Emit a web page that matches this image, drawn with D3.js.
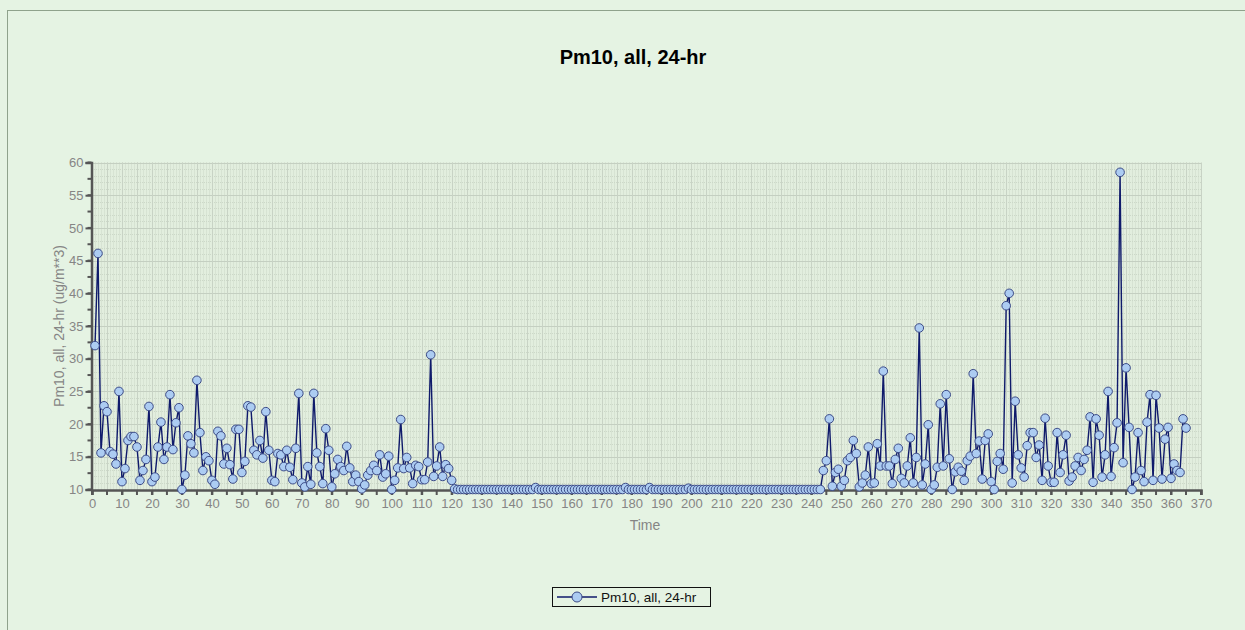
<!DOCTYPE html>
<html>
<head>
<meta charset="utf-8">
<script src="https://cdn.jsdelivr.net/npm/d3@7"></script>
<style>
  html, body { margin: 0; padding: 0; background: #e5f3e3; }
  svg { display: block; font-family: "Liberation Sans", Arial, sans-serif; }
</style>
</head>
<body>
<svg id="chart" width="1245" height="630"></svg>
<script>
// Pm10 24-hr values, day 1 .. 365
const pm10 = [
  32.0,46.1,15.6,22.8,21.9,15.8,15.4,13.9,25.0,11.2,
  13.2,17.5,18.1,18.1,16.5,11.4,12.9,14.6,22.7,11.2,
  11.9,16.5,20.3,14.6,16.5,24.5,16.1,20.2,22.5,10.0,
  12.2,18.2,17.0,15.6,26.7,18.7,12.9,15.0,14.4,11.4,
  10.8,18.9,18.2,13.9,16.3,13.8,11.6,19.2,19.2,12.6,
  14.3,22.8,22.6,16.0,15.3,17.5,14.8,21.9,16.0,11.4,
  11.2,15.5,15.3,13.5,16.0,13.4,11.5,16.3,24.7,11.0,
  10.4,13.5,10.8,24.7,15.6,13.5,10.9,19.3,16.0,10.4,
  12.4,14.6,13.5,12.9,16.6,13.3,11.2,12.2,11.2,10.1,
  10.7,12.2,12.9,13.7,12.9,15.3,11.9,12.4,15.1,10.0,
  11.4,13.3,20.7,13.2,14.9,13.3,10.9,13.7,13.5,11.5,
  11.5,14.2,30.6,12.0,13.6,16.5,12.0,13.8,13.2,11.4,
  10.1,
  10,10,10,10,10,10,10,10,10,10,
  10,10,10,10,10,10,10,10,10,10,
  10,10,10,10,10,10,10.3,10,10,10,
  10,10,10,10,10,10,10,10,10,10,
  10,10,10,10,10,10,10,10,10,10,
  10,10,10,10,10,10,10.3,10,10,10,
  10,10,10,10,10.3,10,10,10,10,10,
  10,10,10,10,10,10,10,10.2,10,10,
  10,10,10,10,10,10,10,10,10,10,
  10,10,10,10,10,10,10,10,10,10,
  10,10,10,10,10,10,10,10,10,10,
  10,10,10,10,10,10,10,10,10,10,
  10,10,
  12.9,14.4,20.8,10.5,12.6,13.1,10.5,11.4,14.4,14.9,
  17.5,15.5,10.4,11.0,12.2,16.5,10.9,11.0,17.0,13.6,
  28.1,13.6,13.6,10.9,14.6,16.3,11.7,11.0,13.6,17.9,
  11.0,14.9,34.7,10.7,13.9,19.9,10.0,10.7,13.4,23.1,
  13.6,24.5,14.7,10.0,12.7,13.4,12.8,11.4,14.4,15.1,
  27.7,15.5,17.4,11.6,17.5,18.5,11.2,10.0,14.3,15.5,
  13.1,38.1,40.0,11.0,23.5,15.3,13.3,11.9,16.7,18.7,
  18.7,14.9,16.8,11.4,20.9,13.6,11.1,11.1,18.7,12.6,
  15.3,18.3,11.3,11.9,13.6,14.9,12.9,14.6,16.0,21.1,
  11.1,20.8,18.3,11.9,15.3,25.0,12.0,16.4,20.2,58.5,
  14.1,28.6,19.5,10.0,11.9,18.7,12.9,11.2,20.3,24.5,
  11.4,24.4,19.4,11.6,17.7,19.5,11.7,13.9,12.9,12.6,
  20.8,19.4
];

const titleText = 'Pm10, all, 24-hr';
const yTitle = 'Pm10, all, 24-hr (ug/m**3)';
const xTitle = 'Time';
const xDomain = [0, 370];
const yDomain = [10, 60];
const xMajor = d3.range(0, 371, 10);
const xMinor = d3.range(0, 371, 5);
const yMajor = d3.range(10, 61, 5);
const yMinor = d3.range(10, 61, 2.5);

const svg = d3.select('#chart');
const W = 1245, H = 630;
const pLeft = 92, pRight = 1201, pTop = 162.5, pBottom = 489.5;

// chart border
svg.append('rect')
  .attr('x', 7.5).attr('y', 10.5)
  .attr('width', W).attr('height', H)
  .attr('fill', '#e5f3e3')
  .attr('stroke', '#8fa28c');

svg.append('text')
  .attr('x', 633).attr('y', 64)
  .attr('text-anchor', 'middle')
  .attr('font-size', 20).attr('font-weight', 'bold')
  .attr('fill', '#000')
  .text(titleText);

let x = d3.scaleLinear().domain(xDomain).range([pLeft, pRight]);
let y = d3.scaleLinear().domain(yDomain).range([pBottom, pTop]);

// plot area + grid
let plot = svg.append('g');
plot.append('rect')
  .attr('x', pLeft).attr('y', pTop)
  .attr('width', pRight - pLeft).attr('height', pBottom - pTop)
  .attr('fill', '#e2eede');

let gx = plot.append('g');
for (let d = 1; d < 370; d++) {
  gx.append('line')
    .attr('x1', Math.round(x(d)) + 0.5).attr('x2', Math.round(x(d)) + 0.5)
    .attr('y1', pTop).attr('y2', pBottom)
    .attr('stroke', '#ccd8c8').attr('stroke-dasharray', '1,1');
}
for (let v = 11; v < 60; v++) {
  gx.append('line')
    .attr('x1', pLeft).attr('x2', pRight)
    .attr('y1', Math.round(y(v)) + 0.5).attr('y2', Math.round(y(v)) + 0.5)
    .attr('stroke', '#ccd8c8').attr('stroke-dasharray', '1,1');
}
yMajor.forEach(function(v) {
  gx.append('line')
    .attr('x1', pLeft).attr('x2', pRight)
    .attr('y1', Math.round(y(v)) + 0.5).attr('y2', Math.round(y(v)) + 0.5)
    .attr('stroke', '#c4cfc1');
});
xMinor.forEach(function(d) {
  gx.append('line')
    .attr('x1', Math.round(x(d)) + 0.5).attr('x2', Math.round(x(d)) + 0.5)
    .attr('y1', pTop).attr('y2', pBottom)
    .attr('stroke', '#c8d3c5');
});

// axes
let yAxis = d3.axisLeft(y).tickValues(yMajor).tickSize(6).tickFormat(d3.format('d'));
let ya = svg.append('g').attr('transform', 'translate(' + (pLeft - 0.5) + ',0)').call(yAxis);
ya.append('g').selectAll('line').data(yMinor).join('line')
  .attr('x1', -4).attr('x2', 0)
  .attr('y1', d => y(d)).attr('y2', d => y(d))
  .attr('stroke', '#555').attr('stroke-width', 2);

let xAxis = d3.axisBottom(x).tickValues(xMajor).tickSize(5).tickFormat(d3.format('d'));
let xa = svg.append('g').attr('transform', 'translate(0,' + (pBottom + 0.5) + ')').call(xAxis);
xa.append('g').selectAll('line').data(xMinor).join('line')
  .attr('x1', d => x(d)).attr('x2', d => x(d))
  .attr('y1', 0).attr('y2', 5)
  .attr('stroke', '#555').attr('stroke-width', 2);

[ya, xa].forEach(function(a) {
  a.select('.domain').attr('stroke', '#555').attr('stroke-width', 2.5);
  a.selectAll('.tick line').attr('stroke', '#555').attr('stroke-width', 2);
  a.selectAll('.tick text').attr('fill', '#858585').style('font-size', '13px')
    .style('font-family', '"Liberation Sans", Arial, sans-serif');
});
ya.selectAll('.tick text').attr('x', -8);
xa.selectAll('.tick text').attr('y', 9);

svg.append('text')
  .attr('transform', 'translate(64,' + ((pTop + pBottom) / 2) + ') rotate(-90)')
  .attr('text-anchor', 'middle')
  .attr('font-size', 14).attr('fill', '#858585')
  .text(yTitle);

svg.append('text')
  .attr('x', 645).attr('y', 530)
  .attr('text-anchor', 'middle')
  .attr('font-size', 14).attr('fill', '#858585')
  .text(xTitle);

// series
let line = d3.line()
  .x((d, i) => x(i + 1))
  .y(d => y(d));

svg.append('path')
  .datum(pm10)
  .attr('fill', 'none')
  .attr('stroke', '#0f1a6b')
  .attr('stroke-width', 1.4)
  .attr('d', line);

svg.append('g').selectAll('circle').data(pm10).join('circle')
  .attr('cx', (d, i) => x(i + 1))
  .attr('cy', d => y(d))
  .attr('r', 4.3)
  .attr('fill', '#acccf2')
  .attr('stroke', '#3b4a86')
  .attr('stroke-width', 1);

// legend
let lg = svg.append('g');
lg.append('rect')
  .attr('x', 552.5).attr('y', 587.5)
  .attr('width', 158).attr('height', 19)
  .attr('fill', 'none').attr('stroke', '#111');
lg.append('line')
  .attr('x1', 557).attr('x2', 597).attr('y1', 597).attr('y2', 597)
  .attr('stroke', '#0f1a6b').attr('stroke-width', 1.4);
lg.append('circle')
  .attr('cx', 577).attr('cy', 597).attr('r', 5)
  .attr('fill', '#acccf2').attr('stroke', '#3b4a86');
lg.append('text')
  .attr('x', 601).attr('y', 602)
  .attr('font-size', 13.5).attr('fill', '#111')
  .text(titleText);
</script>
</body>
</html>
